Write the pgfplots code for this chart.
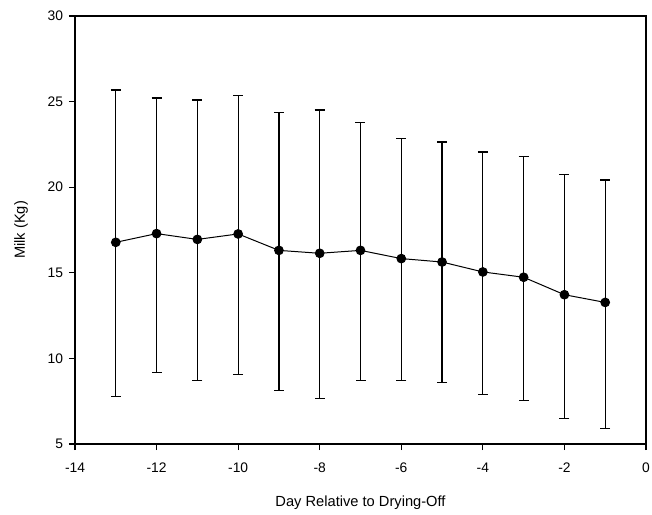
\documentclass[border=0pt]{standalone}
\usepackage{fontspec}
\setmainfont{Liberation Sans}
\usepackage{pgfplots}
\usepackage{pgfplotstable}
\pgfplotsset{compat=1.18}

% day, mean milk, error plus, error minus
\pgfplotstableread{
x    y      ep    em
-13  16.78  8.90  9.02
-12  17.29  7.92  8.10
-11  16.95  8.14  8.25
-10  17.27  8.08  8.20
-9   16.31  8.06  8.19
-8   16.14  8.37  8.49
-7   16.31  7.48  7.61
-6   15.83  7.03  7.13
-5   15.63  7.01  7.05
-4   15.05  7.01  7.17
-3   14.74  7.06  7.21
-2   13.72  7.03  7.24
-1   13.27  7.15  7.38
}\milk

\begin{document}
\begin{tikzpicture}
\begin{axis}[
    scale only axis,
    width=342.6pt, height=256.8pt,
    xmin=-14, xmax=0,
    ymin=5, ymax=30,
    xtick={-14,-12,...,0},
    ytick={5,10,...,30},
    tick pos=left,
    tick align=outside,
    major tick length=3.6pt,
    axis line style={line width=0.8pt},
    every tick/.style={black, line width=0.7pt},
    /pgf/number format/assume math mode=true,
    ticklabel style={font=\fontsize{8.3}{9}\selectfont},
    xticklabel style={yshift=-4pt},
    label style={font=\fontsize{8.8}{10}\selectfont},
    xlabel={Day Relative to Drying-Off},
    ylabel={Milk (Kg)},
    xlabel style={yshift=-7pt},
    ylabel style={yshift=5pt},
]
\addplot[black, line width=0.6pt, mark=*, mark size=2.6pt,
    error bars/.cd, y dir=both, y explicit,
    error bar style={black, line width=0.75pt},
    error mark=|,
    error mark options={black, mark size=3pt, line width=0.8pt}]
    table[x=x, y=y, y error plus=ep, y error minus=em] {\milk};
\end{axis}
\pgfresetboundingbox
\path[use as bounding box] (current axis.south west) ++(-45pt,-42pt) rectangle ++(391.2pt,308.4pt);
\end{tikzpicture}
\end{document}
